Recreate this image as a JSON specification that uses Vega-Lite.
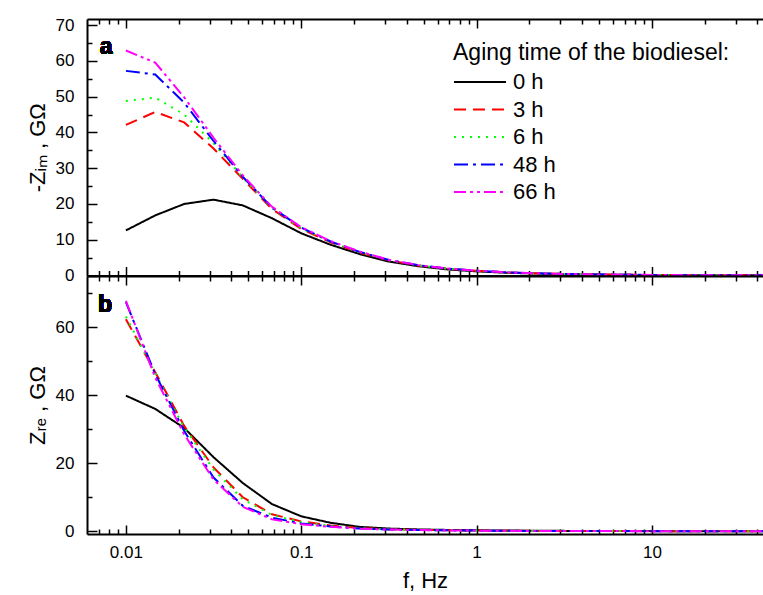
{
  "$schema": "https://vega.github.io/schema/vega-lite/v6.json",
  "padding": {"left": 26, "top": 16, "right": 0, "bottom": 5},
  "bounds": "flush",
  "config": {
    "view": {"stroke": null},
    "font": "Liberation Sans",
    "axis": {"grid": false, "domainColor": "#000000", "domainWidth": 2, "tickColor": "#000000", "tickWidth": 1.5, "labelColor": "#000000", "titleColor": "#000000", "labelFontSize": 17, "titleFontSize": 22, "titleFontWeight": "normal", "labelOverlap": false, "labelFlush": false},
    "legend": {"titleFontSize": 23, "titleFontWeight": "normal", "titleColor": "#000000", "labelFontSize": 22, "labelColor": "#000000", "symbolType": "M-1,0H3", "symbolSize": 676, "symbolStrokeWidth": 2, "labelOffset": 32, "rowPadding": 2.5, "titlePadding": 3, "padding": 0, "titleLimit": 500}
  },
  "data": {"values": [
    {"f":0.01,"s":"0 h","im":12.6,"re":39.9},{"f":0.0147,"s":"0 h","im":16.8,"re":36.0},{"f":0.0215,"s":"0 h","im":20.0,"re":30.4},{"f":0.0316,"s":"0 h","im":21.2,"re":21.8},{"f":0.0464,"s":"0 h","im":19.6,"re":14.2},{"f":0.0681,"s":"0 h","im":16.0,"re":8.0},{"f":0.1,"s":"0 h","im":11.8,"re":4.4},{"f":0.147,"s":"0 h","im":8.6,"re":2.5},{"f":0.215,"s":"0 h","im":6.0,"re":1.3},{"f":0.316,"s":"0 h","im":3.9,"re":0.8},{"f":0.464,"s":"0 h","im":2.6,"re":0.55},{"f":0.681,"s":"0 h","im":1.7,"re":0.4},{"f":1,"s":"0 h","im":1.15,"re":0.3},{"f":1.47,"s":"0 h","im":0.78,"re":0.22},{"f":2.15,"s":"0 h","im":0.54,"re":0.16},{"f":3.16,"s":"0 h","im":0.38,"re":0.12},{"f":4.64,"s":"0 h","im":0.27,"re":0.09},{"f":6.81,"s":"0 h","im":0.19,"re":0.07},{"f":10,"s":"0 h","im":0.14,"re":0.05},{"f":14.7,"s":"0 h","im":0.1,"re":0.04},{"f":21.5,"s":"0 h","im":0.08,"re":0.03},{"f":31.6,"s":"0 h","im":0.06,"re":0.02},{"f":46.4,"s":"0 h","im":0.05,"re":0.02},
    {"f":0.01,"s":"3 h","im":42.1,"re":62.4},{"f":0.0147,"s":"3 h","im":45.7,"re":46.8},{"f":0.0215,"s":"3 h","im":42.8,"re":31.0},{"f":0.0316,"s":"3 h","im":35.5,"re":18.8},{"f":0.0464,"s":"3 h","im":27.0,"re":10.0},{"f":0.0681,"s":"3 h","im":18.6,"re":5.0},{"f":0.1,"s":"3 h","im":13.0,"re":2.9},{"f":0.147,"s":"3 h","im":9.3,"re":1.7},{"f":0.215,"s":"3 h","im":6.4,"re":0.95},{"f":0.316,"s":"3 h","im":4.2,"re":0.6},{"f":0.464,"s":"3 h","im":2.8,"re":0.42},{"f":0.681,"s":"3 h","im":1.9,"re":0.3},{"f":1,"s":"3 h","im":1.3,"re":0.22},{"f":1.47,"s":"3 h","im":0.88,"re":0.16},{"f":2.15,"s":"3 h","im":0.61,"re":0.12},{"f":3.16,"s":"3 h","im":0.43,"re":0.09},{"f":4.64,"s":"3 h","im":0.3,"re":0.07},{"f":6.81,"s":"3 h","im":0.21,"re":0.05},{"f":10,"s":"3 h","im":0.15,"re":0.04},{"f":14.7,"s":"3 h","im":0.11,"re":0.03},{"f":21.5,"s":"3 h","im":0.08,"re":0.02},{"f":31.6,"s":"3 h","im":0.06,"re":0.02},{"f":46.4,"s":"3 h","im":0.05,"re":0.02},
    {"f":0.01,"s":"6 h","im":48.8,"re":63.2},{"f":0.0147,"s":"6 h","im":49.7,"re":46.5},{"f":0.0215,"s":"6 h","im":45.0,"re":30.5},{"f":0.0316,"s":"6 h","im":37.0,"re":18.2},{"f":0.0464,"s":"6 h","im":27.4,"re":9.4},{"f":0.0681,"s":"6 h","im":18.8,"re":4.8},{"f":0.1,"s":"6 h","im":13.2,"re":2.7},{"f":0.147,"s":"6 h","im":9.4,"re":1.6},{"f":0.215,"s":"6 h","im":6.5,"re":0.9},{"f":0.316,"s":"6 h","im":4.3,"re":0.58},{"f":0.464,"s":"6 h","im":2.85,"re":0.4},{"f":0.681,"s":"6 h","im":1.92,"re":0.29},{"f":1,"s":"6 h","im":1.32,"re":0.21},{"f":1.47,"s":"6 h","im":0.9,"re":0.15},{"f":2.15,"s":"6 h","im":0.62,"re":0.11},{"f":3.16,"s":"6 h","im":0.44,"re":0.08},{"f":4.64,"s":"6 h","im":0.31,"re":0.06},{"f":6.81,"s":"6 h","im":0.22,"re":0.05},{"f":10,"s":"6 h","im":0.15,"re":0.04},{"f":14.7,"s":"6 h","im":0.11,"re":0.03},{"f":21.5,"s":"6 h","im":0.08,"re":0.02},{"f":31.6,"s":"6 h","im":0.06,"re":0.02},{"f":46.4,"s":"6 h","im":0.05,"re":0.02},
    {"f":0.01,"s":"48 h","im":57.2,"re":67.4},{"f":0.0147,"s":"48 h","im":56.2,"re":46.2},{"f":0.0215,"s":"48 h","im":48.3,"re":29.5},{"f":0.0316,"s":"48 h","im":37.6,"re":15.8},{"f":0.0464,"s":"48 h","im":27.6,"re":7.5},{"f":0.0681,"s":"48 h","im":19.0,"re":4.0},{"f":0.1,"s":"48 h","im":13.4,"re":2.3},{"f":0.147,"s":"48 h","im":9.5,"re":1.4},{"f":0.215,"s":"48 h","im":6.6,"re":0.8},{"f":0.316,"s":"48 h","im":4.35,"re":0.52},{"f":0.464,"s":"48 h","im":2.88,"re":0.37},{"f":0.681,"s":"48 h","im":1.94,"re":0.27},{"f":1,"s":"48 h","im":1.33,"re":0.2},{"f":1.47,"s":"48 h","im":0.9,"re":0.14},{"f":2.15,"s":"48 h","im":0.62,"re":0.1},{"f":3.16,"s":"48 h","im":0.44,"re":0.08},{"f":4.64,"s":"48 h","im":0.31,"re":0.06},{"f":6.81,"s":"48 h","im":0.22,"re":0.05},{"f":10,"s":"48 h","im":0.15,"re":0.04},{"f":14.7,"s":"48 h","im":0.11,"re":0.03},{"f":21.5,"s":"48 h","im":0.08,"re":0.02},{"f":31.6,"s":"48 h","im":0.06,"re":0.02},{"f":46.4,"s":"48 h","im":0.05,"re":0.02},
    {"f":0.01,"s":"66 h","im":62.9,"re":67.8},{"f":0.0147,"s":"66 h","im":59.5,"re":45.2},{"f":0.0215,"s":"66 h","im":49.8,"re":28.5},{"f":0.0316,"s":"66 h","im":38.5,"re":15.2},{"f":0.0464,"s":"66 h","im":28.0,"re":7.2},{"f":0.0681,"s":"66 h","im":19.2,"re":3.5},{"f":0.1,"s":"66 h","im":13.5,"re":2.1},{"f":0.147,"s":"66 h","im":9.6,"re":1.3},{"f":0.215,"s":"66 h","im":6.7,"re":0.75},{"f":0.316,"s":"66 h","im":4.4,"re":0.5},{"f":0.464,"s":"66 h","im":2.9,"re":0.35},{"f":0.681,"s":"66 h","im":1.95,"re":0.26},{"f":1,"s":"66 h","im":1.34,"re":0.19},{"f":1.47,"s":"66 h","im":0.91,"re":0.14},{"f":2.15,"s":"66 h","im":0.63,"re":0.1},{"f":3.16,"s":"66 h","im":0.44,"re":0.08},{"f":4.64,"s":"66 h","im":0.31,"re":0.06},{"f":6.81,"s":"66 h","im":0.22,"re":0.05},{"f":10,"s":"66 h","im":0.15,"re":0.04},{"f":14.7,"s":"66 h","im":0.11,"re":0.03},{"f":21.5,"s":"66 h","im":0.08,"re":0.02},{"f":31.6,"s":"66 h","im":0.06,"re":0.02},{"f":46.4,"s":"66 h","im":0.05,"re":0.02}
  ]},
  "spacing": 0,
  "resolve": {"scale": {"color": "independent", "strokeDash": "independent"}, "legend": {"color": "independent", "strokeDash": "independent"}},
  "vconcat": [
    {
      "width": 676, "height": 256.5,
      "resolve": {"axis": {"x": "independent"}},
      "layer": [
        {
          "mark": {"type": "line", "strokeWidth": 2, "clip": true},
          "encoding": {
            "x": {"field": "f", "type": "quantitative", "scale": {"type": "log", "domain": [0.006, 43], "nice": false},
              "axis": {"orient": "bottom", "title": null, "labels": false, "values": [0.007,0.008,0.009,0.01,0.02,0.03,0.04,0.05,0.06,0.07,0.08,0.09,0.1,0.2,0.3,0.4,0.5,0.6,0.7,0.8,0.9,1,2,3,4,5,6,7,8,9,10,20,30,40],
                "tickSize": {"condition": {"test": "indexof([0.01,0.1,1,10], datum.value) >= 0", "value": -9}, "value": -5}}},
            "y": {"field": "im", "type": "quantitative", "scale": {"domain": [0, 71.7], "nice": false, "zero": false},
              "axis": {"title": "-Zᵢₘ ,  GΩ", "values": [0,5,10,15,20,25,30,35,40,45,50,55,60,65,70], "labelExpr": "datum.value % 10 == 0 ? datum.label : ''", "labelPadding": 23, "titlePadding": 6,
                "tickSize": {"condition": {"test": "datum.value % 10 == 0", "value": -10}, "value": -5}}},
            "color": {"field": "s", "type": "nominal", "scale": {"domain": ["0 h","3 h","6 h","48 h","66 h"], "range": ["#000000","#FF0000","#00FF00","#0000FF","#FF00FF"]},
              "legend": {"title": "Aging time of the biodiesel:", "orient": "none", "legendX": 366, "legendY": 23}},
            "strokeDash": {"field": "s", "type": "nominal", "scale": {"domain": ["0 h","3 h","6 h","48 h","66 h"], "range": [[1,0],[12,7],[2,6],[14,5,3,5],[12,4,3,4,3,4]]},
              "legend": {"title": "Aging time of the biodiesel:", "orient": "none", "legendX": 366, "legendY": 23}}
          }
        },
        {
          "mark": {"type": "text", "align": "left", "baseline": "alphabetic", "fontSize": 23, "fontWeight": "bold", "color": "#000000"},
          "encoding": {
            "x": {"datum": 0.0071, "type": "quantitative", "scale": {"type": "log", "domain": [0.006, 43], "nice": false},
              "axis": {"orient": "top", "title": null, "labels": false, "values": [0.007,0.008,0.009,0.01,0.02,0.03,0.04,0.05,0.06,0.07,0.08,0.09,0.1,0.2,0.3,0.4,0.5,0.6,0.7,0.8,0.9,1,2,3,4,5,6,7,8,9,10,20,30,40],
                "tickSize": {"condition": {"test": "indexof([0.01,0.1,1,10], datum.value) >= 0", "value": -9}, "value": -5}}},
            "y": {"datum": 61.8, "type": "quantitative",
              "axis": {"title": "-Zᵢₘ ,  GΩ", "values": [0,5,10,15,20,25,30,35,40,45,50,55,60,65,70], "labelExpr": "datum.value % 10 == 0 ? datum.label : ''", "labelPadding": 23, "titlePadding": 6,
                "tickSize": {"condition": {"test": "datum.value % 10 == 0", "value": -10}, "value": -5}}},
            "text": {"value": "a"}
          }
        }
      ]
    },
    {
      "width": 676, "height": 258,
      "resolve": {"axis": {"x": "independent"}},
      "layer": [
        {
          "mark": {"type": "line", "strokeWidth": 2, "clip": true},
          "encoding": {
            "x": {"field": "f", "type": "quantitative", "scale": {"type": "log", "domain": [0.006, 43], "nice": false},
              "axis": {"orient": "bottom", "title": "f,  Hz", "titlePadding": 6, "labelPadding": 19, "values": [0.007,0.008,0.009,0.01,0.02,0.03,0.04,0.05,0.06,0.07,0.08,0.09,0.1,0.2,0.3,0.4,0.5,0.6,0.7,0.8,0.9,1,2,3,4,5,6,7,8,9,10,20,30,40],
                "labelExpr": "datum.value == 0.01 ? '0.01' : datum.value == 0.1 ? '0.1' : datum.value == 1 ? '1' : datum.value == 10 ? '10' : ''",
                "tickSize": {"condition": {"test": "indexof([0.01,0.1,1,10], datum.value) >= 0", "value": -9}, "value": -5}}},
            "y": {"field": "re", "type": "quantitative", "scale": {"domain": [-0.8, 75.1], "nice": false, "zero": false},
              "axis": {"title": "Zᵣₑ ,  GΩ", "values": [0,10,20,30,40,50,60,70], "labelExpr": "datum.value % 20 == 0 ? datum.label : ''", "labelPadding": 23, "titlePadding": 6,
                "tickSize": {"condition": {"test": "datum.value % 20 == 0", "value": -10}, "value": -5}}},
            "color": {"field": "s", "type": "nominal", "scale": {"domain": ["0 h","3 h","6 h","48 h","66 h"], "range": ["#000000","#FF0000","#00FF00","#0000FF","#FF00FF"]}, "legend": null},
            "strokeDash": {"field": "s", "type": "nominal", "scale": {"domain": ["0 h","3 h","6 h","48 h","66 h"], "range": [[1,0],[12,7],[2,6],[14,5,3,5],[12,4,3,4,3,4]]}, "legend": null}
          }
        },
        {
          "mark": {"type": "text", "align": "left", "baseline": "alphabetic", "fontSize": 23, "fontWeight": "bold", "color": "#000000"},
          "encoding": {
            "x": {"datum": 0.00694, "type": "quantitative", "scale": {"type": "log", "domain": [0.006, 43], "nice": false},
              "axis": {"orient": "top", "title": null, "labels": false, "values": [0.007,0.008,0.009,0.01,0.02,0.03,0.04,0.05,0.06,0.07,0.08,0.09,0.1,0.2,0.3,0.4,0.5,0.6,0.7,0.8,0.9,1,2,3,4,5,6,7,8,9,10,20,30,40],
                "tickSize": {"condition": {"test": "indexof([0.01,0.1,1,10], datum.value) >= 0", "value": -9}, "value": -5}}},
            "y": {"datum": 64.5, "type": "quantitative",
              "axis": {"title": "Zᵣₑ ,  GΩ", "values": [0,10,20,30,40,50,60,70], "labelExpr": "datum.value % 20 == 0 ? datum.label : ''", "labelPadding": 23, "titlePadding": 6,
                "tickSize": {"condition": {"test": "datum.value % 20 == 0", "value": -10}, "value": -5}}},
            "text": {"value": "b"}
          }
        }
      ]
    }
  ]
}
